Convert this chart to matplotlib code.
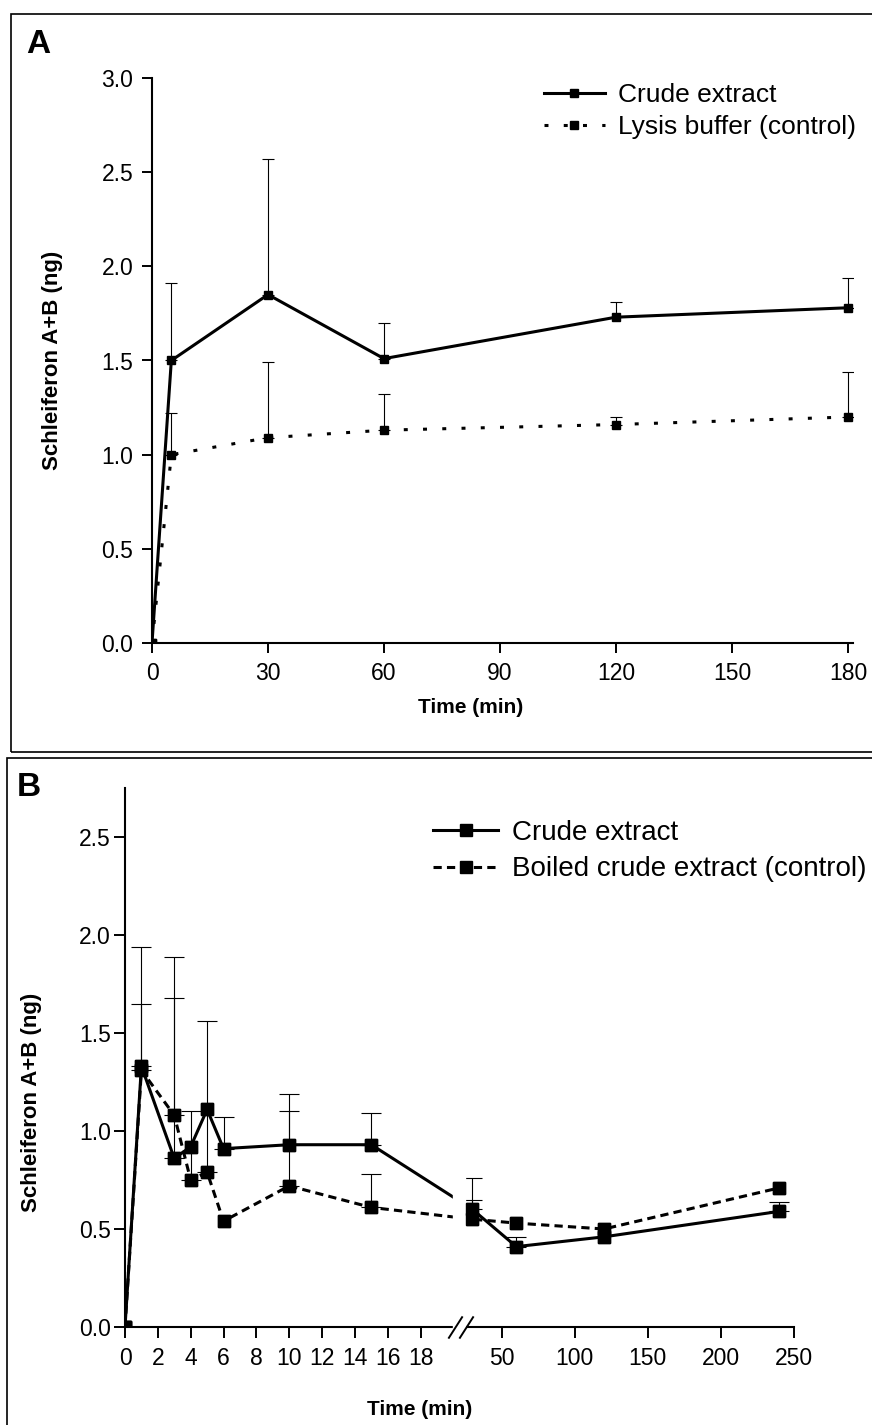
import numpy as np
import matplotlib
matplotlib.use('Agg')
import matplotlib.pyplot as plt
from matplotlib.path import Path
from matplotlib.patches import Rectangle

# Panel A data: crude extract vs lysis buffer control
time_a = [0, 5, 30, 60, 120, 180]
crude_a = [0, 1.50, 1.85, 1.51, 1.73, 1.78]
crude_a_err = [0, 0.41, 0.72, 0.19, 0.08, 0.16]
lysis_a = [0, 1.00, 1.09, 1.13, 1.16, 1.20]
lysis_a_err = [0, 0.22, 0.40, 0.19, 0.04, 0.24]
xticks_a = [0, 30, 60, 90, 120, 150, 180]
yticks_a = [0.0, 0.5, 1.0, 1.5, 2.0, 2.5, 3.0]

# Panel B data: crude extract vs boiled crude extract control
time_b = [0, 1, 3, 4, 5, 6, 10, 15, 30, 60, 120, 240]
crude_b = [0, 1.33, 0.86, 0.92, 1.11, 0.91, 0.93, 0.93, 0.60, 0.41, 0.46, 0.59]
crude_b_err = [0, 0.61, 1.03, 0, 0, 0.16, 0.17, 0.16, 0.16, 0.05, 0, 0.05]
boiled_b = [0, 1.31, 1.08, 0.75, 0.79, 0.54, 0.72, 0.61, 0.55, 0.53, 0.50, 0.71]
boiled_b_err = [0, 0.34, 0.60, 0.35, 0.77, 0, 0.47, 0.17, 0.10, 0, 0, 0]
xticks_b = [0, 2, 4, 6, 8, 10, 12, 14, 16, 18, 50, 100, 150, 200, 250]
yticks_b = [0.0, 0.5, 1.0, 1.5, 2.0, 2.5]

# broken x axis for panel B: 0-20 linear, gap, 30-250 compressed
BRK_LO, BRK_HI = 20, 30
GAP = 1.16
K = 0.089


def fwd(t):
    t = np.asarray(t, dtype=float)
    return np.where(t <= BRK_LO, t,
                    np.where(t <= BRK_HI, BRK_LO + GAP * (t - BRK_LO) / (BRK_HI - BRK_LO),
                             BRK_LO + GAP + K * (t - BRK_HI)))


def inv(u):
    u = np.asarray(u, dtype=float)
    return np.where(u <= BRK_LO, u,
                    np.where(u <= BRK_LO + GAP, BRK_LO + (u - BRK_LO) * (BRK_HI - BRK_LO) / GAP,
                             BRK_HI + (u - BRK_LO - GAP) / K))


plt.rcParams['font.family'] = ['Liberation Sans', 'DejaVu Sans']

fig = plt.figure(figsize=(8.72, 14.25), dpi=100)

LW = 2.2
ELW = 0.8


def style_axes(ax, tick_len, pad_y, pad_x):
    for s in ['top', 'right']:
        ax.spines[s].set_visible(False)
    for s in ['left', 'bottom']:
        ax.spines[s].set_linewidth(1.5)
    ax.tick_params(axis='both', direction='out', width=1.4, length=tick_len, labelsize=16.5)
    ax.tick_params(axis='y', pad=pad_y)
    ax.tick_params(axis='x', pad=pad_x)


def err_bars(ax, t, y, e, cap):
    t = np.asarray(t, float)
    y = np.asarray(y, float)
    e = np.asarray(e, float)
    m = e > 0
    ax.errorbar(t[m], y[m], yerr=[np.zeros(m.sum()), e[m]], fmt='none', ecolor='black',
                elinewidth=ELW, capsize=cap, capthick=ELW, zorder=1)


# ---------------- Panel A ----------------
axA = fig.add_axes([152 / 872, 1 - 643 / 1425, 701 / 872, 565 / 1425])
err_bars(axA, time_a, crude_a, crude_a_err, 4)
err_bars(axA, time_a, lysis_a, lysis_a_err, 4)
axA.plot(time_a, crude_a, color='black', lw=LW, marker='s', ms=5.5,
         label='Crude extract', zorder=3)
axA.plot(time_a, lysis_a, color='black', lw=LW, ls=(0, (1.3, 5)), marker='s', ms=5.5,
         label='Lysis buffer (control)', zorder=3)
axA.set_xlim(0, 181.3)
axA.set_ylim(0, 3.0)
axA.set_xticks(xticks_a)
axA.set_yticks(yticks_a)
axA.set_yticklabels([f'{v:.1f}' for v in yticks_a])
style_axes(axA, 7, 6.5, 7)
axA.set_ylabel('Schleiferon A+B (ng)', fontsize=16, fontweight='bold')
axA.yaxis.set_label_coords(-0.127, 0.5)
axA.set_xlabel('Time (min)', fontsize=15, fontweight='bold')
axA.xaxis.set_label_coords(0.454, -0.097)
axA.legend(loc='upper left', bbox_to_anchor=(544 / 872, 1 - 83 / 1425),
           bbox_transform=fig.transFigure, frameon=False, fontsize=19,
           handlelength=2.3, handletextpad=0.5, labelspacing=0.3,
           borderpad=0, borderaxespad=0)

# ---------------- Panel B ----------------
axB = fig.add_axes([125 / 872, 1 - 1327 / 1425, 669 / 872, 539 / 1425])
axB.set_xscale('function', functions=(fwd, inv))
err_bars(axB, time_b, crude_b, crude_b_err, 7)
err_bars(axB, time_b, boiled_b, boiled_b_err, 7)
axB.plot(time_b, crude_b, color='black', lw=LW, marker='s', ms=8,
         label='Crude extract', zorder=2)
axB.plot(time_b, boiled_b, color='black', lw=LW, ls=(0, (2.7, 1.7)), marker='s', ms=8,
         label='Boiled crude extract (control)', zorder=2)
# hide the lines and axis inside the break, then re-draw the markers on top
axB.axvspan(19.95, 26.2, ymin=-0.03, ymax=1, color='white', zorder=2.7, clip_on=False)
axB.plot(time_b, crude_b, ls='none', marker='s', ms=8, color='black', zorder=3)
axB.plot(time_b, boiled_b, ls='none', marker='s', ms=8, color='black', zorder=3)
slash = Path([(-0.32, -0.5), (0.32, 0.5)], [Path.MOVETO, Path.LINETO])
axB.plot([20.95, 26.7], [0, 0], ls='none', marker=slash, ms=16, mew=1.4,
         color='black', clip_on=False, zorder=4)
axB.set_xlim(0, 250)
axB.set_ylim(0, 2.75)
axB.set_xticks(xticks_b)
axB.set_xticklabels([str(v) for v in xticks_b])
axB.set_yticks(yticks_b)
axB.set_yticklabels([f'{v:.1f}' for v in yticks_b])
axB.xaxis.set_minor_locator(matplotlib.ticker.NullLocator())
style_axes(axB, 8, 2, 6.5)
axB.set_ylabel('Schleiferon A+B (ng)', fontsize=16, fontweight='bold')
axB.yaxis.set_label_coords(-0.124, 0.416)
axB.set_xlabel('Time (min)', fontsize=15, fontweight='bold')
axB.xaxis.set_label_coords(0.44, -0.135)
axB.legend(loc='upper left', bbox_to_anchor=(433 / 872, 1 - 820 / 1425),
           bbox_transform=fig.transFigure, frameon=False, fontsize=20,
           handlelength=2.35, handletextpad=0.5, labelspacing=0.37,
           borderpad=0, borderaxespad=0)

# panel frames and letters
fig.add_artist(Rectangle((11 / 872, 1 - 752 / 1425), 1.0, 738 / 1425,
                         transform=fig.transFigure, fill=False, lw=1.2, ec='black'))
fig.add_artist(Rectangle((7 / 872, -0.02), 1.0, 1 - 758 / 1425 + 0.02,
                         transform=fig.transFigure, fill=False, lw=1.2, ec='black'))
fig.text(26 / 872, 1 - 29 / 1425, 'A', fontsize=24, fontweight='bold', va='top', ha='left')
fig.text(17 / 872, 1 - 772 / 1425, 'B', fontsize=24, fontweight='bold', va='top', ha='left')

fig.savefig('out.png', dpi=100)
